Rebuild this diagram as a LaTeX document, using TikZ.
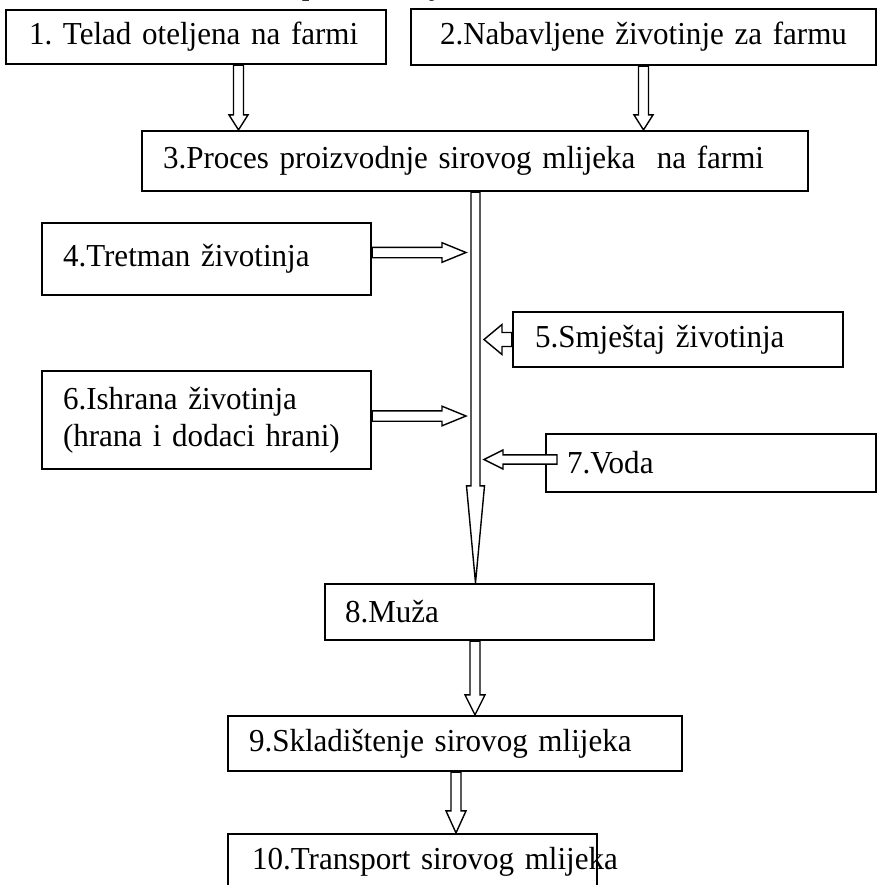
\documentclass[tikz,border=0pt]{standalone}
\usepackage{fontspec}
\setmainfont{Liberation Serif}[FakeStretch=0.97]
\usetikzlibrary{calc}
\newcommand{\blockarrow}[5]{%
  \coordinate (bahead) at ($(#2)!#5!(#1)$);
  \draw[arrowline] ($(#1)!#3!90:(#2)$) -- ($(bahead)!#3!90:(#2)$) -- ($(bahead)!#4!90:(#2)$) -- (#2)
     -- ($(bahead)!#4!-90:(#2)$) -- ($(bahead)!#3!-90:(#2)$) -- ($(#1)!#3!-90:(#2)$) -- cycle;
}
\frenchspacing
\begin{document}
\begin{tikzpicture}[x=0.5pt,y=-0.5pt,
  box/.style={draw, line width=1.1pt, rectangle, inner ysep=0pt, align=left,
              font=\fontsize{16}{18.5}\selectfont},
  arrowline/.style={draw, fill=white, line width=0.7pt, line join=miter},
  frag/.style={font=\fontsize{16}{18.5}\selectfont\itshape, anchor=base, inner sep=0pt}]
\useasboundingbox (0,0) rectangle (879,885);
\clip (0,0) rectangle (879,885);

% clipped caption fragments at the top edge
\node[frag] (fragp) at (312,-6) {p};
\node[frag] (fragc) at (374,-5) {,};
\node[frag] (fragj) at (437,-6) {j};

% boxes
\node[box, inner xsep=11.5pt, text width=167pt, minimum height=27pt] (b1) at (196,37) {\rlap{1. Telad oteljena na farmi}};
\node[box, inner xsep=14.5pt, text width=203.5pt, minimum height=28pt] (b2) at (643.5,37) {\rlap{2.Nabavljene životinje za farmu}};
\node[box, inner xsep=10.5pt, text width=312pt, minimum height=30pt] (b3) at (475,161) {\rlap{3.Proces proizvodnje sirovog mlijeka~ na farmi}};
\node[box, inner xsep=10.5pt, text width=143.5pt, minimum height=36pt] (b4) at (206.5,259) {\rlap{4.Tretman životinja}};
\node[box, inner xsep=11pt, text width=143pt, minimum height=27.5pt] (b5) at (678,339.5) {\rlap{5.Smještaj životinja}};
\node[box, inner xsep=10.5pt, text width=143.5pt, minimum height=49pt] (b6) at (206.5,420) {\rlap{6.Ishrana životinja}\\\rlap{(hrana i dodaci hrani)}};
\node[box, inner xsep=10.5pt, text width=144pt, minimum height=29pt] (b7) at (711,463) {\rlap{7.Voda}};
\node[box, inner xsep=10pt, text width=144.5pt, minimum height=28pt] (b8) at (489.5,612) {\rlap{8.Muža}};
\node[box, inner xsep=10.5pt, text width=206pt, minimum height=27.5pt] (b9) at (455,743.5) {\rlap{9.Skladištenje sirovog mlijeka}};
\node[box, inner xsep=12pt, text width=160.5pt, minimum height=28pt] (b10) at (412.5,862) {\rlap{10.Transport sirovog mlijeka}};

% reference coordinates
\coordinate (x1) at (238.5,0);
\coordinate (mx) at (475.5,0);
\coordinate (x8) at (475,0);
\coordinate (x9) at (456,0);
\coordinate (a4y) at (0,252.5);
\coordinate (a6y) at (0,416);
\coordinate (t4) at (466,252.5);
\coordinate (t6) at (466,416);
\coordinate (t5) at (484,339.5);
\coordinate (s7) at (557,459.5);
\coordinate (t7) at (484,459.5);

% connectors (hollow block arrows)
\blockarrow{b1.south -| x1}{b3.north -| x1}{2.5pt}{4.75pt}{7.5pt}
\blockarrow{b2.south}{b3.north -| b2.south}{2.5pt}{4.75pt}{7.5pt}
\blockarrow{b3.south -| mx}{b8.north -| mx}{2.25pt}{4.5pt}{48.5pt}
\blockarrow{a4y -| b4.east}{t4}{2.6pt}{4.9pt}{12pt}
\blockarrow{a6y -| b6.east}{t6}{2.6pt}{4.9pt}{12pt}
\blockarrow{b5.west}{t5}{3.5pt}{7.5pt}{9pt}
\blockarrow{s7}{t7}{2.3pt}{4.75pt}{9.5pt}
\blockarrow{b8.south -| x8}{b9.north -| x8}{2.5pt}{5pt}{10pt}
\blockarrow{b9.south -| x9}{b10.north -| x9}{2.5pt}{5pt}{11pt}
\end{tikzpicture}
\end{document}
